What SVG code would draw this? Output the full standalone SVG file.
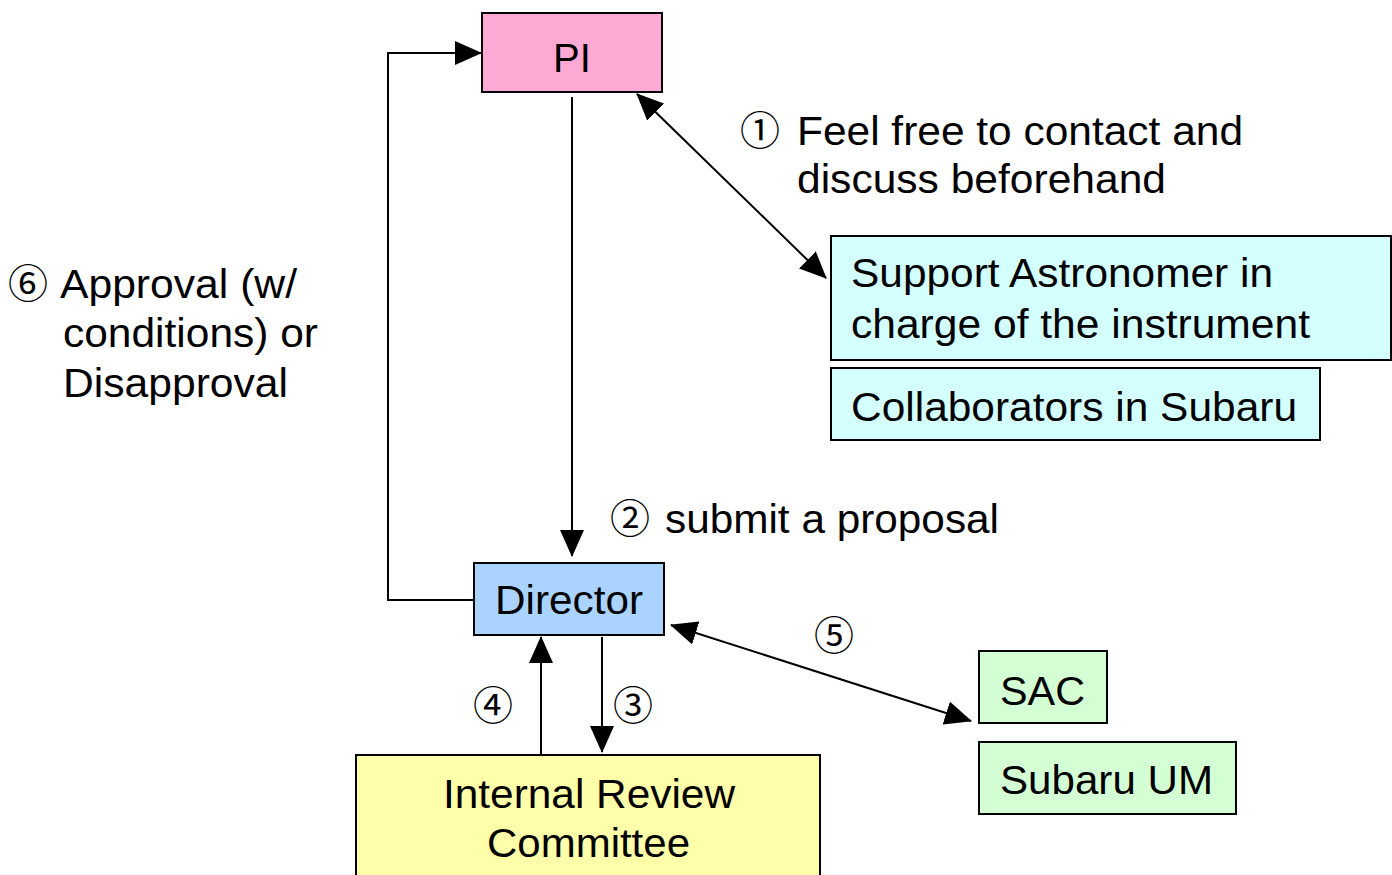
<svg xmlns="http://www.w3.org/2000/svg" width="1392" height="875" viewBox="0 0 1392 875">
<style>
text{font-family:"Liberation Sans","Noto Sans CJK JP",sans-serif;font-size:40px;fill:#000}
.box{stroke:#000;stroke-width:2}
.c{text-anchor:middle}
.ln{fill:none;stroke:#000;stroke-width:2}
</style>
<defs>
<marker id="ah" markerUnits="userSpaceOnUse" markerWidth="27" markerHeight="24" refX="26" refY="12" orient="auto-start-reverse" viewBox="0 0 27 24">
<path d="M0,0 L27,12 L0,24 z" fill="#000"/>
</marker>
</defs>
<rect width="1392" height="875" fill="#fff"/>
<g id="connectors">
<path class="ln" d="M474,600 L388,600 L388,53 L481,53" marker-end="url(#ah)"/>
<path class="ln" d="M572,97 L572,556" marker-end="url(#ah)"/>
<path class="ln" d="M637,94 L826,278" marker-start="url(#ah)" marker-end="url(#ah)"/>
<path class="ln" d="M541,755 L541,637" marker-end="url(#ah)"/>
<path class="ln" d="M602,637 L602,752" marker-end="url(#ah)"/>
<path class="ln" d="M671,625 L971,721" marker-start="url(#ah)" marker-end="url(#ah)"/>
</g>
<g id="pi">
<rect class="box" x="482" y="13" width="180" height="79" fill="#FFAAD4"/>
<text class="c" x="572" y="72">PI</text>
</g>
<g id="support">
<rect class="box" x="831" y="236" width="560" height="124" fill="#D4FFFF"/>
<text x="851" y="287" textLength="422" lengthAdjust="spacingAndGlyphs">Support Astronomer in</text>
<text x="851" y="338" textLength="459" lengthAdjust="spacingAndGlyphs">charge of the instrument</text>
</g>
<g id="collaborators">
<rect class="box" x="831" y="368" width="489" height="72" fill="#D4FFFF"/>
<text x="851" y="421" textLength="446" lengthAdjust="spacingAndGlyphs">Collaborators in Subaru</text>
</g>
<g id="director">
<rect class="box" x="474" y="563" width="190" height="72" fill="#AAD4FF"/>
<text x="495" y="614" textLength="148" lengthAdjust="spacingAndGlyphs">Director</text>
</g>
<g id="irc">
<rect class="box" x="356" y="755" width="464" height="130" fill="#FFFFAA"/>
<text x="443" y="808" textLength="292" lengthAdjust="spacingAndGlyphs">Internal Review</text>
<text x="487" y="857" textLength="203" lengthAdjust="spacingAndGlyphs">Committee</text>
</g>
<g id="sac">
<rect class="box" x="979" y="651" width="128" height="72" fill="#D4FFD4"/>
<text x="1000" y="705" textLength="85" lengthAdjust="spacingAndGlyphs">SAC</text>
</g>
<g id="subaru-um">
<rect class="box" x="979" y="742" width="257" height="72" fill="#D4FFD4"/>
<text x="1000" y="794" textLength="213" lengthAdjust="spacingAndGlyphs">Subaru UM</text>
</g>
<g id="labels">
<text x="740" y="145">①<tspan x="797" textLength="446" lengthAdjust="spacingAndGlyphs">Feel free to contact and</tspan></text>
<text x="797" y="193" textLength="369" lengthAdjust="spacingAndGlyphs">discuss beforehand</text>
<text x="8" y="298">⑥<tspan x="60" textLength="237" lengthAdjust="spacingAndGlyphs">Approval (w/</tspan></text>
<text x="63" y="347" textLength="255" lengthAdjust="spacingAndGlyphs">conditions) or</text>
<text x="63" y="397" textLength="225" lengthAdjust="spacingAndGlyphs">Disapproval</text>
<text x="610" y="533">②<tspan x="665" textLength="334" lengthAdjust="spacingAndGlyphs">submit a proposal</tspan></text>
<text class="c" x="834" y="650">⑤</text>
<text class="c" x="493" y="720">④</text>
<text class="c" x="633" y="720">③</text>
</g>
</svg>
